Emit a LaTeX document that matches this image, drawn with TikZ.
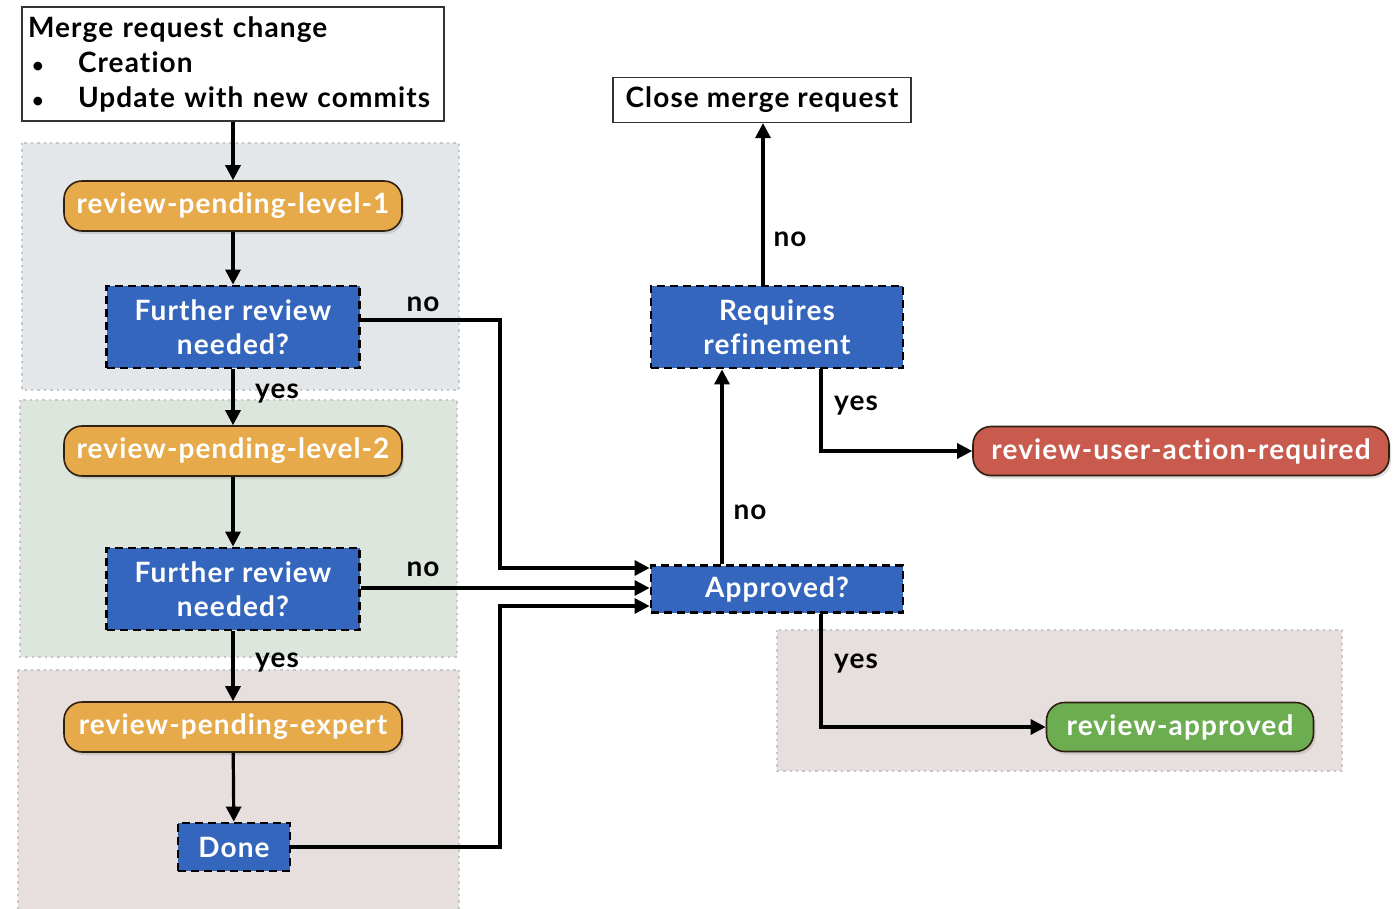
\documentclass[tikz,border=0pt]{standalone}
\usepackage{fontspec}
\setmainfont{Lato}[LetterSpace=4.0, Ligatures={NoCommon}]
\usetikzlibrary{arrows.meta,shadows}
\tikzset{
  region/.style={draw=gray!45, dotted, line width=1.2pt},
  statebox/.style={rounded corners=9pt, draw=black!75!brown, line width=0.8pt, text=white, font=\fontsize{14}{16}\selectfont\bfseries, drop shadow={shadow xshift=1pt, shadow yshift=-1.5pt, opacity=0.25}},
  pend/.style={statebox, fill=orange3, minimum width=169pt, minimum height=25pt},
  decision/.style={draw=black, dashed, dash pattern=on 4pt off 2.5pt, line width=1.4pt, fill=blue3, text=white, font=\fontsize{14}{17}\selectfont\bfseries, align=center},
  plainbox/.style={draw=black!80, line width=0.6pt, fill=white, font=\fontsize{14}{17.5}\selectfont\bfseries},
  conn/.style={line width=1.6pt, -{Triangle[length=7.5pt,width=7.5pt]}},
  lbl/.style={font=\fontsize{14}{16}\selectfont\bfseries, inner sep=0pt}
}
\newcommand{\smallbul}{\makebox[25pt][l]{\hspace{2pt}{\fontsize{10}{10}\selectfont\textbullet}}}
\definecolor{orange3}{HTML}{E6AA4B}
\definecolor{blue3}{HTML}{3566BD}
\definecolor{red3}{HTML}{C95A4E}
\definecolor{green3}{HTML}{6DAD52}
\definecolor{reg1}{HTML}{E3E7EA}
\definecolor{reg2}{HTML}{DDE6DC}
\definecolor{reg3}{HTML}{E7DFDD}
\begin{document}
\begin{tikzpicture}[x=0.5pt,y=-0.5pt]
\path[fill=white] (0,0) rectangle (1398,909);
\useasboundingbox (0,0) rectangle (1398,909);
% regions
\fill[reg1] (22,143) rectangle (459,390);
\draw[region] (22,143) rectangle (459,390);
\fill[reg2] (20,400) rectangle (457,657);
\draw[region] (20,400) rectangle (457,657);
\fill[reg3] (18,670) rectangle (459,912);
\draw[region] (18,670) -- (459,670) (18,670) -- (18,909) (459,670) -- (459,909);
\fill[reg3] (777,630) rectangle (1342,771);
\draw[region] (777,630) rectangle (1342,771);
% nodes
\node[plainbox, minimum width=211pt, minimum height=57pt, text width=205pt, align=left, inner sep=3pt] (start) at (233,64)
  {Merge request change\\[0pt]\smallbul Creation\\\smallbul Update with new commits};
\node[pend] (rpl1) at (233,206) {review-pending-level-1};
\node[decision, minimum width=126.5pt, minimum height=41pt] (fr1) at (233,327) {Further review\\needed?};
\node[pend] (rpl2) at (233,451) {review-pending-level-2};
\node[decision, minimum width=126.5pt, minimum height=41pt] (fr2) at (233,589) {Further review\\needed?};
\node[pend] (rpe) at (233,727) {review-pending-expert};
\node[decision, minimum width=56pt, minimum height=24pt] (done) at (234,847) {Done};
\node[plainbox, minimum width=149pt, minimum height=22.5pt, inner sep=0pt] (close) at (762,100) {Close merge request};
\node[decision, minimum width=126pt, minimum height=41pt] (rr) at (777,327) {Requires\\refinement};
\node[statebox, fill=red3, minimum width=208pt, minimum height=24.5pt] (ruar) at (1181,451) {review-user-action-required};
\node[decision, minimum width=126pt, minimum height=23.5pt] (appr) at (777,589) {Approved?};
\node[statebox, fill=green3, minimum width=133.5pt, minimum height=24.5pt] (ra) at (1180,727) {review-approved};
% connectors
\draw[conn] (start) -- (rpl1);
\draw[conn] (rpl1) -- (fr1);
\draw[conn] (fr1) -- (rpl2);
\draw[conn] (rpl2) -- (fr2);
\draw[conn] (fr2) -- (rpe);
\draw[conn] (rpe) -- (done);
\draw[conn] (fr1.east |- 0,320) -- (500,320) -- (500,568) -- (appr.west |- 0,568);
\draw[conn] (fr2.east |- 0,588) -- (appr.west |- 0,588);
\draw[conn] (done.east) -- (500,847) -- (500,606) -- (appr.west |- 0,606);
\draw[conn] (appr.north -| 722,0) -- (rr.south -| 722,0);
\draw[conn] (rr.north -| 763,0) -- (close.south -| 763,0);
\draw[conn] (rr.south -| 821,0) -- (821,451) -- (ruar.west);
\draw[conn] (appr.south -| 821,0) -- (821,727) -- (ra.west);
% labels
\node[lbl] (l1) at (277,394) {yes};
\node[lbl] (l2) at (277,663) {yes};
\node[lbl] (l3) at (423,304) {no};
\node[lbl] (l4) at (423,569) {no};
\node[lbl] (l5) at (750,512) {no};
\node[lbl] (l6) at (790,239) {no};
\node[lbl] (l7) at (856,406) {yes};
\node[lbl] (l8) at (856,664) {yes};
\end{tikzpicture}
\end{document}
